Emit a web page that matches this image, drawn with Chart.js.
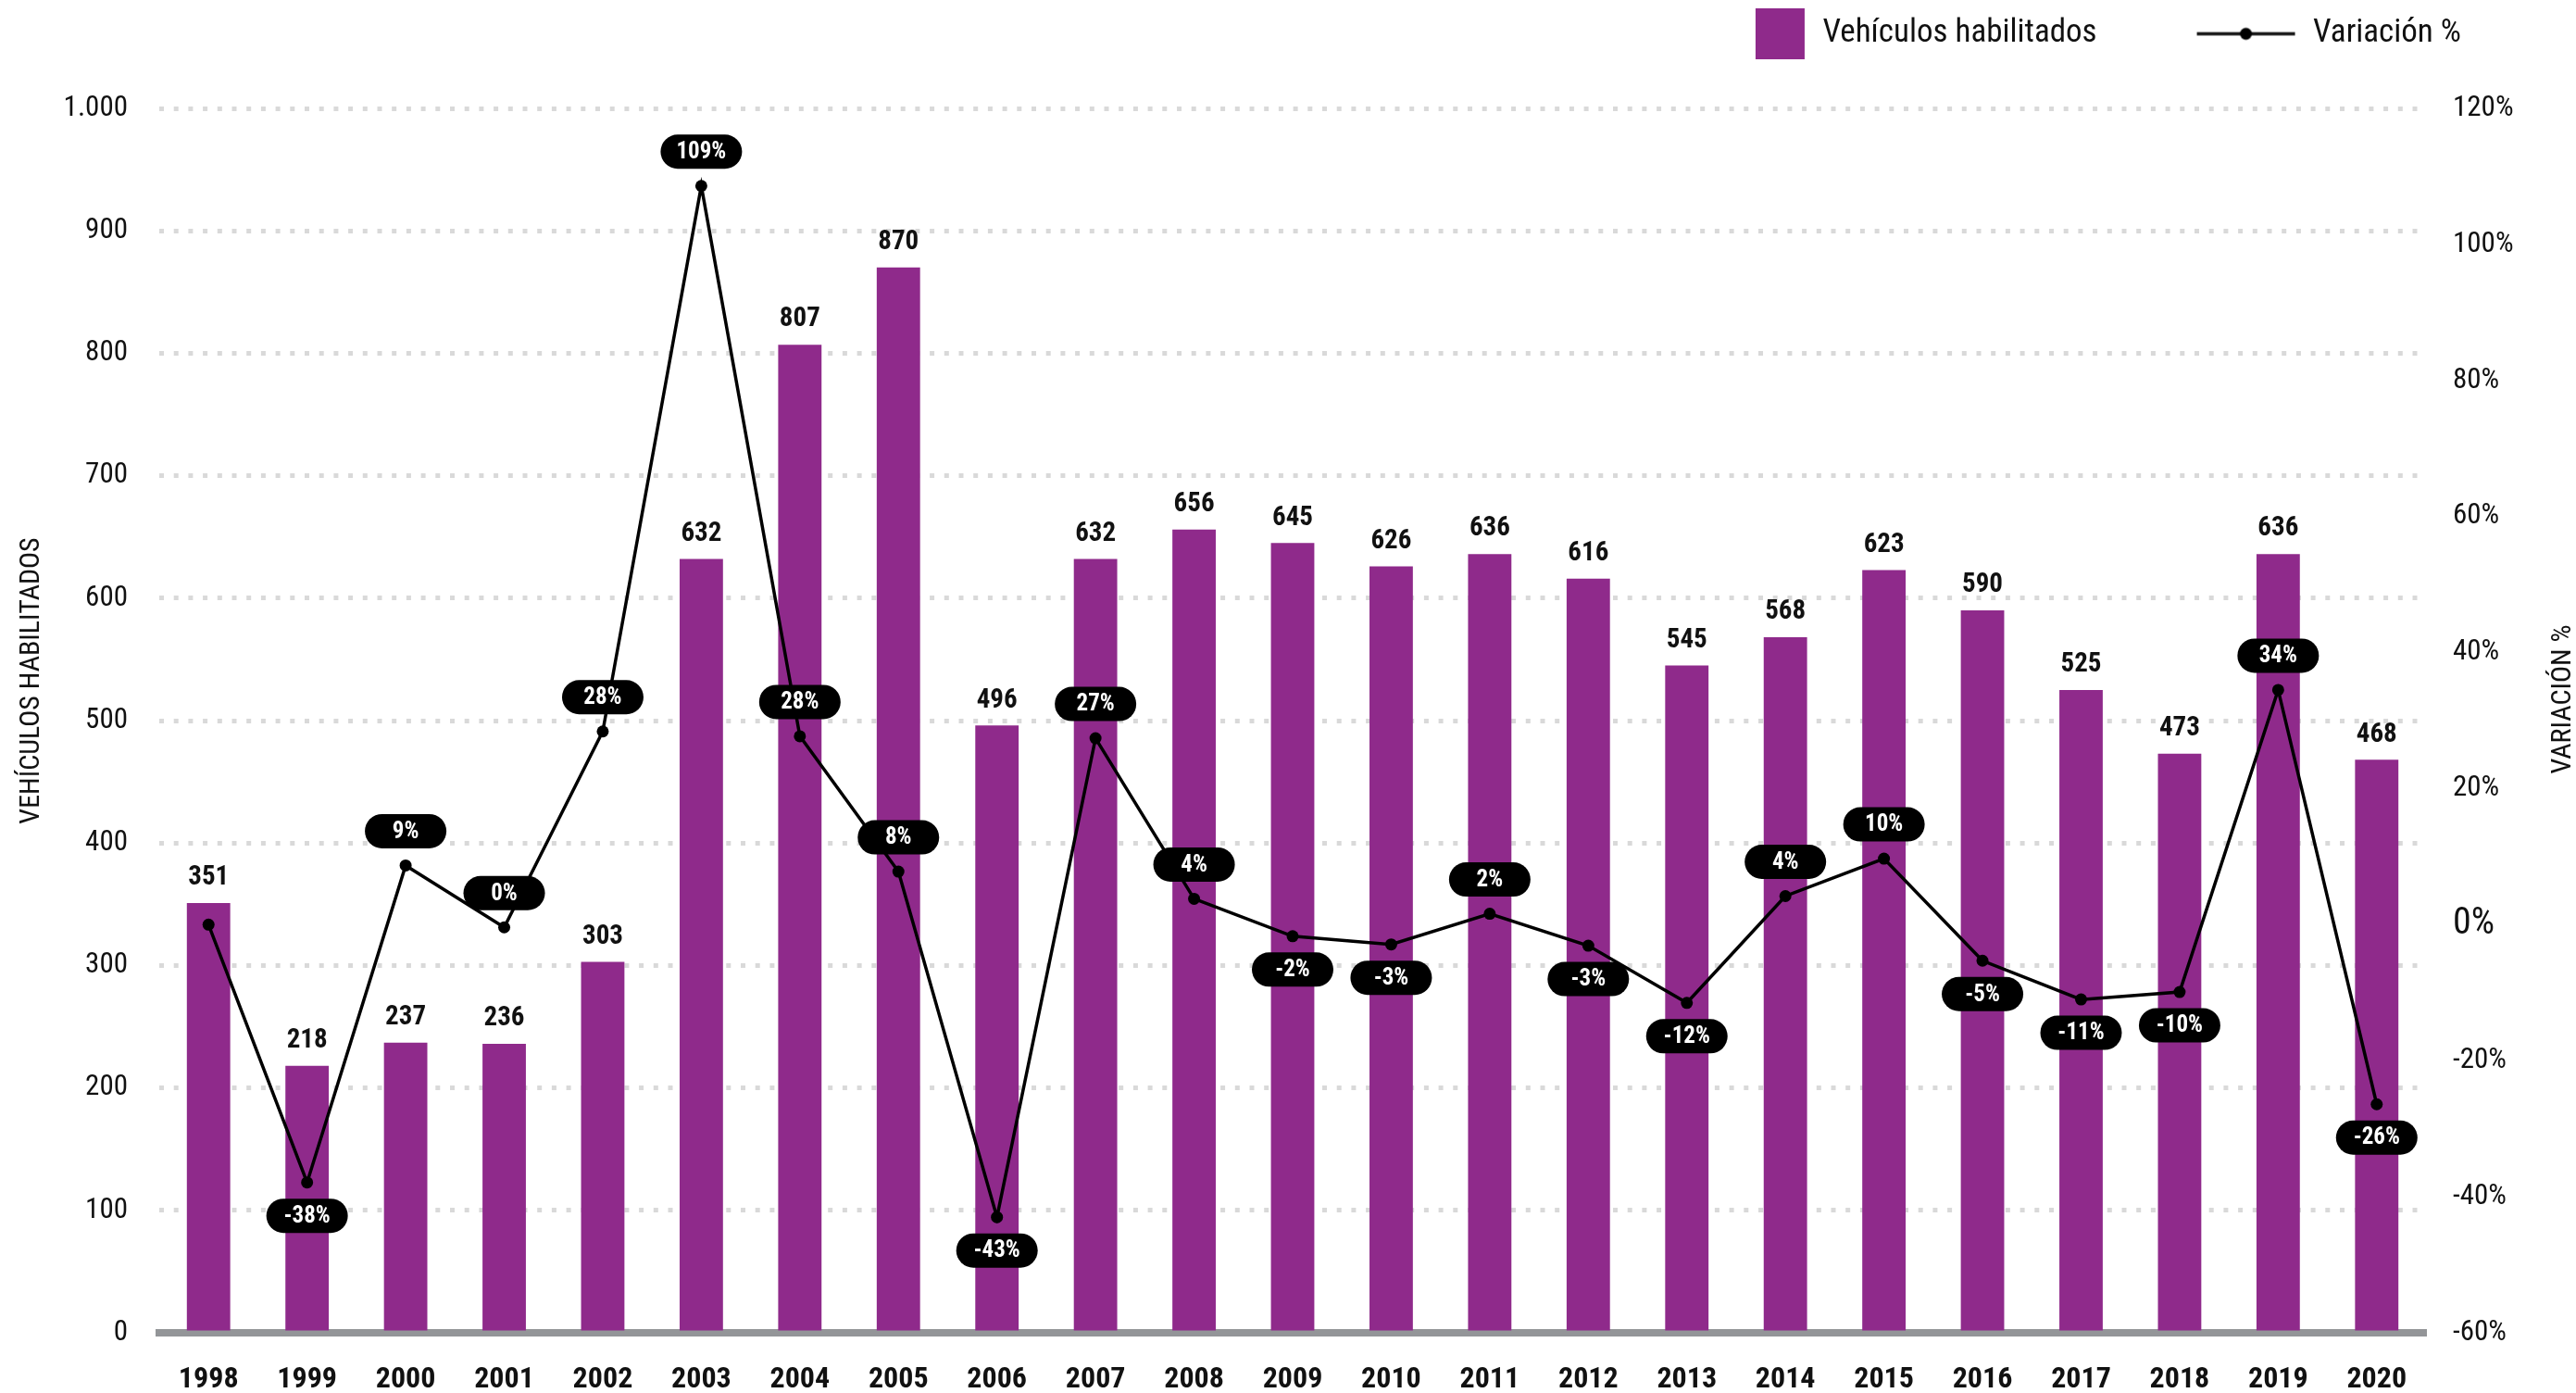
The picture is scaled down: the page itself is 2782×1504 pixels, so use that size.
<!DOCTYPE html>
<html>
<head>
<meta charset="utf-8">
<script src="https://cdn.jsdelivr.net/npm/chart.js@4.4.1/dist/chart.umd.min.js"></script>
<style>
html,body{margin:0;padding:0;background:#fff;}
#wrap{width:2782px;height:1504px;position:relative;}
</style>
</head>
<body>
<div id="wrap"><canvas id="c" width="2782" height="1504"></canvas></div>
<script>
// ---- DATA ----
const years = ['1998','1999','2000','2001','2002','2003','2004','2005','2006','2007','2008','2009','2010','2011','2012','2013','2014','2015','2016','2017','2018','2019','2020'];
const vehicles = [351,218,237,236,303,632,807,870,496,632,656,645,626,636,616,545,568,623,590,525,473,636,468];
const variation = [0,-37.9,8.7,-0.4,28.4,108.6,27.7,7.8,-43.0,27.4,3.8,-1.7,-2.9,1.6,-3.1,-11.5,4.2,9.7,-5.3,-11.0,-9.9,34.5,-26.4];
const variationLabels = ['','-38%','9%','0%','28%','109%','28%','8%','-43%','27%','4%','-2%','-3%','2%','-3%','-12%','4%','10%','-5%','-11%','-10%','34%','-26%'];
const seriesNames = ['Vehículos habilitados','Variación %'];
const axisTitles = ['VEHÍCULOS HABILITADOS','VARIACIÓN %'];

// ---- STYLE ----
const BAR = '#8f2a8b';
const TXT = '#111111';

function hasFont(name){
  const c = document.createElement('canvas').getContext('2d');
  const s = 'abcdefghijklmnopqrstuvwxyz0123456789ABCDEFGH';
  c.font = '40px monospace'; const a = c.measureText(s).width;
  c.font = '40px "' + name + '", monospace'; const b = c.measureText(s).width;
  c.font = '40px serif'; const d = c.measureText(s).width;
  c.font = '40px "' + name + '", serif'; const e = c.measureText(s).width;
  return a !== b || d !== e;
}
const candidates = ['Roboto Condensed','Liberation Sans Narrow','DejaVu Sans Condensed','Roboto'];
let FAM = 'Roboto';
for (const f of candidates) { if (hasFont(f)) { FAM = f; break; } }
const FONT = '"' + FAM + '", Roboto, sans-serif';
Chart.defaults.font.family = FONT;
Chart.defaults.color = TXT;

// legend images
const LW = 206;
function makeBarImg(){
  const c = document.createElement('canvas'); c.width = LW; c.height = 55;
  const g = c.getContext('2d'); g.fillStyle = BAR; g.fillRect(LW-55, 0, 53, 55);
  return c;
}
function makeLineImg(){
  const c = document.createElement('canvas'); c.width = LW; c.height = 16;
  const g = c.getContext('2d'); g.strokeStyle = '#111'; g.lineWidth = 3.5;
  g.beginPath(); g.moveTo(LW-108, 8); g.lineTo(LW-2, 8); g.stroke();
  g.fillStyle = '#000'; g.beginPath(); g.arc(LW-55, 8, 6.5, 0, Math.PI*2); g.fill();
  return c;
}
const imgBar = makeBarImg();
const imgLine = makeLineImg();

function pill(ctx, x, y, w, h){
  const r = h/2;
  ctx.beginPath();
  ctx.moveTo(x - w/2 + r, y - r);
  ctx.lineTo(x + w/2 - r, y - r);
  ctx.arc(x + w/2 - r, y, r, -Math.PI/2, Math.PI/2);
  ctx.lineTo(x - w/2 + r, y + r);
  ctx.arc(x - w/2 + r, y, r, Math.PI/2, Math.PI*1.5);
  ctx.closePath();
}

const layoutTweak = {
  id: 'layoutTweak',
  afterLayout(chart){
    const lg = chart.legend;
    if (!lg) return;
    const h = lg.bottom - lg.top;
    lg.top = 9; lg.bottom = 9 + h;
    lg.right = 2668;
  }
};

const valueLabels = {
  id: 'valueLabels',
  afterDatasetsDraw(chart){
    const ctx = chart.ctx;
    ctx.save();
    ctx.textAlign = 'center'; ctx.textBaseline = 'middle';
    const barMeta = chart.getDatasetMeta(0);
    ctx.font = 'bold 29px ' + FONT; ctx.fillStyle = TXT;
    barMeta.data.forEach((bar, i) => { ctx.fillText(String(vehicles[i]), bar.x, bar.y - 27); });
    const lineMeta = chart.getDatasetMeta(1);
    lineMeta.data.forEach((pt, i) => {
      const t = variationLabels[i];
      if (!t) return;
      const above = t.charAt(0) !== '-';
      const cy = above ? pt.y - 37 : pt.y + 36;
      ctx.fillStyle = '#000';
      pill(ctx, pt.x, cy, 88, 37); ctx.fill();
      ctx.fillStyle = '#fff'; ctx.font = 'bold 25px ' + FONT;
      ctx.fillText(t, pt.x, cy + 1);
    });
    ctx.restore();
  },
  afterDraw(chart){
    const ctx = chart.ctx;
    ctx.save();
    ctx.font = '30px ' + FONT; ctx.fillStyle = TXT;
    ctx.textAlign = 'center'; ctx.textBaseline = 'middle';
    ctx.translate(34, 735); ctx.rotate(-Math.PI/2); ctx.fillText(axisTitles[0], 0, 0);
    ctx.restore();
    ctx.save();
    ctx.font = '30px ' + FONT; ctx.fillStyle = TXT;
    ctx.textAlign = 'center'; ctx.textBaseline = 'middle';
    ctx.translate(2768, 755); ctx.rotate(-Math.PI/2); ctx.fillText(axisTitles[1], 0, 0);
    ctx.restore();
  }
};

new Chart(document.getElementById('c'), {
  data: {
    labels: years,
    datasets: [
      { type: 'bar', label: seriesNames[0], data: vehicles, backgroundColor: BAR, yAxisID: 'y',
        categoryPercentage: 1, barPercentage: 0.44, order: 2 },
      { type: 'line', label: seriesNames[1], data: variation, yAxisID: 'y2', borderColor: '#000', borderWidth: 3.5,
        pointRadius: 6.5, pointBackgroundColor: '#000', pointBorderWidth: 0, tension: 0, order: 1 }
    ]
  },
  options: {
    responsive: false, animation: false, events: [], devicePixelRatio: 1,
    layout: { padding: { top: 62, left: 0, right: 0, bottom: 0 } },
    plugins: {
      tooltip: { enabled: false },
      legend: {
        position: 'top', align: 'end',
        labels: {
          usePointStyle: true, pointStyleWidth: LW, boxHeight: 35, padding: 10,
          font: { size: 35 }, color: TXT,
          generateLabels: () => [
            { text: seriesNames[0], pointStyle: imgBar, fillStyle: BAR, strokeStyle: BAR, lineWidth: 0, hidden: false, datasetIndex: 0, fontColor: TXT },
            { text: seriesNames[1], pointStyle: imgLine, fillStyle: '#000', strokeStyle: '#000', lineWidth: 0, hidden: false, datasetIndex: 1, fontColor: TXT }
          ]
        }
      }
    },
    scales: {
      x: {
        position: 'bottom', z: 1,
        grid: { display: false, drawTicks: false },
        border: { display: true, color: '#939598', width: 8 },
        ticks: { font: { size: 32, weight: 'bold' }, color: TXT, padding: 32, maxRotation: 0, autoSkip: false },
        afterFit: s => { s.height = 65; }
      },
      y: {
        position: 'left', min: 0, max: 1000,
        grid: { drawTicks: false, lineWidth: 5, color: c => (c.tick && c.tick.value === 0) ? 'rgba(0,0,0,0)' : '#d9d9d9' },
        border: { display: false, dash: [5, 10.7] },
        ticks: { stepSize: 100, padding: 34, font: { size: 31 }, color: TXT,
          callback: v => v.toLocaleString('de-DE') },
        afterFit: s => { s.width = 172; }
      },
      y2: {
        position: 'right', min: -60, max: 120,
        grid: { drawOnChartArea: false, drawTicks: false },
        border: { display: false },
        ticks: { stepSize: 20, padding: 29, color: TXT,
          font: c => ({ size: (c.tick && c.tick.value === 0) ? 40 : 31 }),
          callback: v => v + '%' },
        afterFit: s => { s.width = 162; }
      }
    }
  },
  plugins: [layoutTweak, valueLabels]
});
</script>
</body>
</html>
